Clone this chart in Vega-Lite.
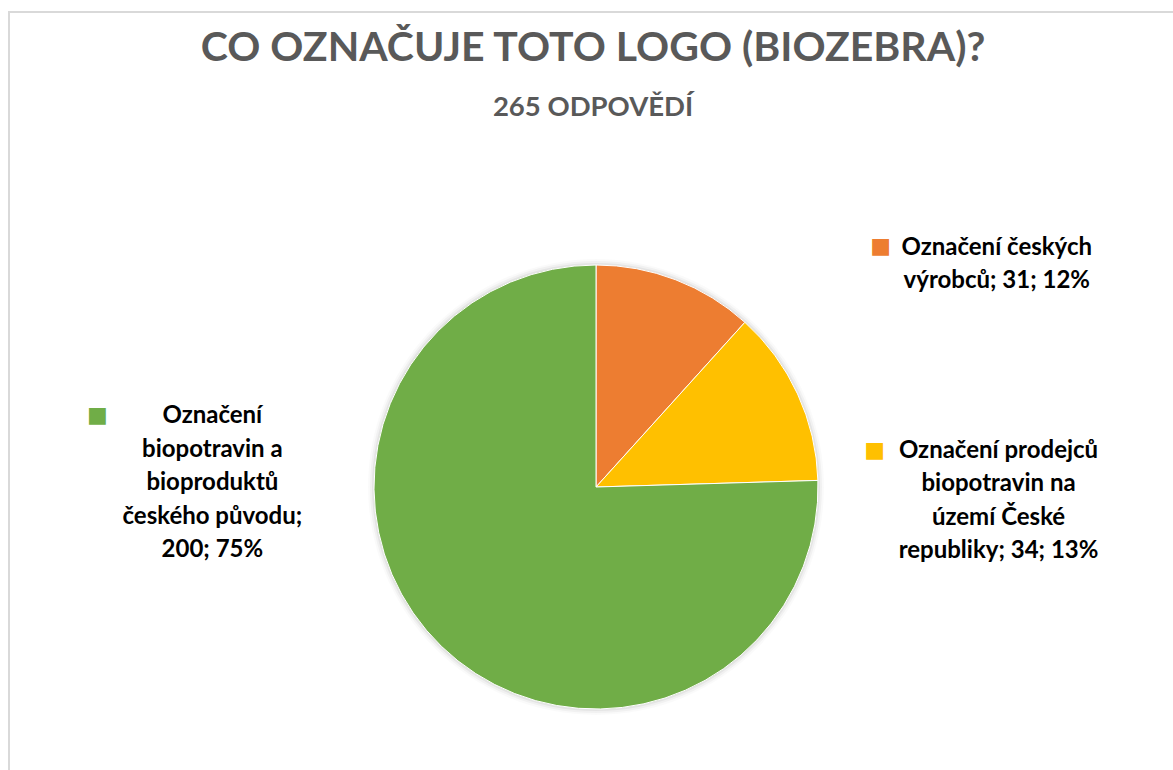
{
  "$schema": "https://vega.github.io/schema/vega-lite/v6.json",
  "width": 1174,
  "height": 950,
  "autosize": {"type": "none"},
  "padding": {"left": 9, "top": 12, "right": 0, "bottom": 0},
  "background": "#ffffff",
  "view": {"stroke": "#d9d9d9", "strokeWidth": 2, "fill": "#ffffff"},
  "config": {
    "view": {"stroke": "#d9d9d9", "strokeWidth": 2},
    "style": {"cell": {"stroke": "#d9d9d9", "strokeWidth": 2}},
    "font": "Lato"
  },
  "title": {
    "text": "CO OZNAČUJE TOTO LOGO (BIOZEBRA)?",
    "subtitle": "265 ODPOVĚDÍ",
    "anchor": "middle",
    "frame": "group",
    "offset": -110,
    "dx": -3,
    "font": "Lato",
    "fontSize": 41,
    "fontWeight": "bold",
    "color": "#595959",
    "subtitleFont": "Lato",
    "subtitleFontSize": 27.5,
    "subtitleFontWeight": "bold",
    "subtitleColor": "#595959",
    "subtitlePadding": 24
  },
  "data": {
    "values": [
      {"poradi": 1, "kategorie": "Označení českých výrobců", "pocet": 31, "popisek": "Označení českých\nvýrobců; 31; 12%"},
      {"poradi": 2, "kategorie": "Označení prodejců biopotravin na území České republiky", "pocet": 34, "popisek": "Označení prodejců\nbiopotravin na\núzemí České\nrepubliky; 34; 13%"},
      {"poradi": 3, "kategorie": "Označení biopotravin a bioproduktů českého původu", "pocet": 200, "popisek": "Označení\nbiopotravin a\nbioproduktů\nčeského původu;\n200; 75%"}
    ]
  },
  "transform": [
    {"stack": "pocet", "groupby": [], "sort": [{"field": "poradi", "order": "ascending"}], "as": ["t0", "t1"]},
    {"calculate": "(datum.t0 + datum.t1) / 2", "as": "mid"}
  ],
  "layer": [
    {
      "transform": [{"aggregate": [{"op": "sum", "field": "pocet", "as": "celkem"}]}],
      "mark": {"type": "arc", "outerRadius": 228, "fill": "#000000", "fillOpacity": 0.02, "strokeWidth": 0},
      "encoding": {"theta": {"field": "celkem", "type": "quantitative", "scale": {"nice": false, "zero": true}}}
    },
    {
      "transform": [{"aggregate": [{"op": "sum", "field": "pocet", "as": "celkem"}]}],
      "mark": {"type": "arc", "outerRadius": 226, "fill": "#000000", "fillOpacity": 0.035, "strokeWidth": 0},
      "encoding": {"theta": {"field": "celkem", "type": "quantitative"}}
    },
    {
      "transform": [{"aggregate": [{"op": "sum", "field": "pocet", "as": "celkem"}]}],
      "mark": {"type": "arc", "outerRadius": 224, "fill": "#000000", "fillOpacity": 0.05, "strokeWidth": 0},
      "encoding": {"theta": {"field": "celkem", "type": "quantitative"}}
    },
    {
      "mark": {"type": "arc", "outerRadius": 222, "stroke": "#ffffff", "strokeWidth": 1},
      "encoding": {
        "theta": {"field": "t0", "type": "quantitative"},
        "theta2": {"field": "t1"},
        "color": {
          "field": "kategorie",
          "type": "nominal",
          "scale": {
            "domain": ["Označení českých výrobců", "Označení prodejců biopotravin na území České republiky", "Označení biopotravin a bioproduktů českého původu"],
            "range": ["#ED7D31", "#FFC000", "#70AD47"]
          },
          "legend": null
        }
      }
    },
    {
      "transform": [{"filter": "datum.poradi == 1"}],
      "mark": {"type": "text", "radius": 222, "align": "center", "baseline": "alphabetic", "lineBreak": "\n", "lineHeight": 33.5, "fontSize": 24, "fontWeight": "bold", "color": "#000000", "dx": 321, "dy": -25},
      "encoding": {"theta": {"field": "mid", "type": "quantitative"}, "text": {"field": "popisek"}}
    },
    {
      "transform": [{"filter": "datum.poradi == 2"}],
      "mark": {"type": "text", "radius": 222, "align": "center", "baseline": "alphabetic", "lineBreak": "\n", "lineHeight": 33.5, "fontSize": 24, "fontWeight": "bold", "color": "#000000", "dx": 201, "dy": 64},
      "encoding": {"theta": {"field": "mid", "type": "quantitative"}, "text": {"field": "popisek"}}
    },
    {
      "transform": [{"filter": "datum.poradi == 3"}],
      "mark": {"type": "text", "radius": 222, "align": "center", "baseline": "alphabetic", "lineBreak": "\n", "lineHeight": 33.5, "fontSize": 24, "fontWeight": "bold", "color": "#000000", "dx": -229, "dy": -223},
      "encoding": {"theta": {"field": "mid", "type": "quantitative"}, "text": {"field": "popisek"}}
    },
    {
      "transform": [{"filter": "datum.poradi == 1"}],
      "mark": {"type": "text", "radius": 222, "align": "center", "baseline": "middle", "font": "DejaVu Sans", "fontSize": 22, "text": "■", "dx": 205, "dy": -34},
      "encoding": {"theta": {"field": "mid", "type": "quantitative"}, "color": {"field": "kategorie", "type": "nominal", "legend": null}}
    },
    {
      "transform": [{"filter": "datum.poradi == 2"}],
      "mark": {"type": "text", "radius": 222, "align": "center", "baseline": "middle", "font": "DejaVu Sans", "fontSize": 22, "text": "■", "dx": 77, "dy": 56},
      "encoding": {"theta": {"field": "mid", "type": "quantitative"}, "color": {"field": "kategorie", "type": "nominal", "legend": null}}
    },
    {
      "transform": [{"filter": "datum.poradi == 3"}],
      "mark": {"type": "text", "radius": 222, "align": "center", "baseline": "middle", "font": "DejaVu Sans", "fontSize": 22, "text": "■", "dx": -344, "dy": -231},
      "encoding": {"theta": {"field": "mid", "type": "quantitative"}, "color": {"field": "kategorie", "type": "nominal", "legend": null}}
    }
  ]
}
